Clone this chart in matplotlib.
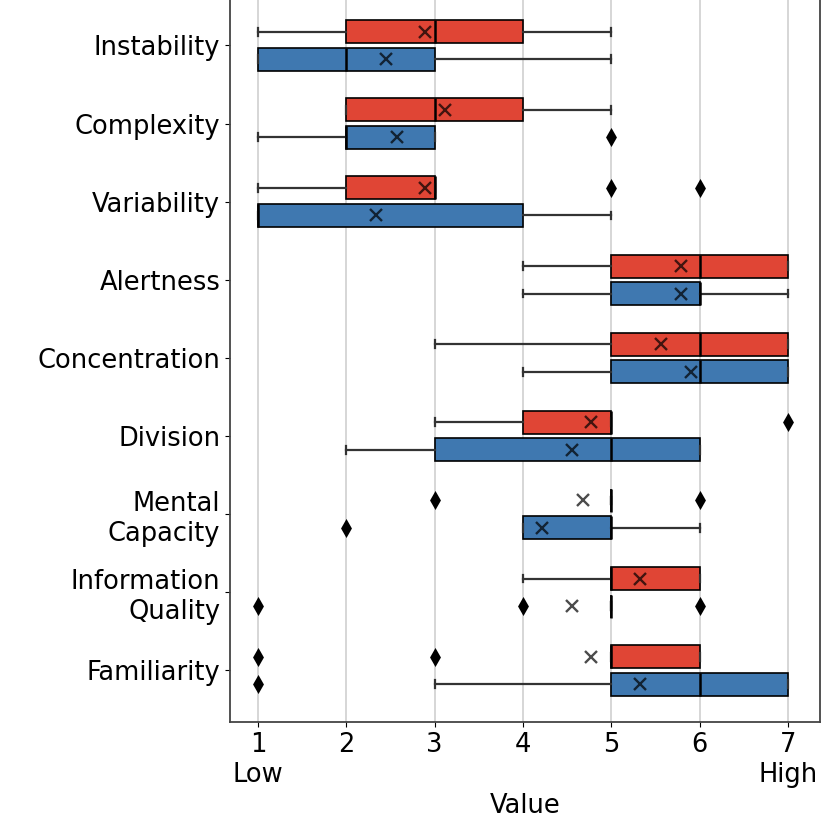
import matplotlib
matplotlib.use("Agg")
from matplotlib import pyplot as plt

# categories, top to bottom
categories = ["Instability", "Complexity", "Variability", "Alertness", "Concentration",
              "Division", "Mental\nCapacity", "Information\nQuality", "Familiarity"]

# red group: whisker low, q1, median, q3, whisker high, mean, outliers
red_wlo = [1, 2, 1, 4, 3, 3, 5, 4, 5]
red_q1 = [2, 2, 2, 5, 5, 4, 5, 5, 5]
red_med = [3, 3, 3, 6, 6, 5, 5, 5, 5]
red_q3 = [4, 4, 3, 7, 7, 5, 5, 6, 6]
red_whi = [5, 5, 3, 7, 7, 5, 5, 6, 6]
red_mean = [2.89, 3.12, 2.89, 5.79, 5.56, 4.77, 4.68, 5.33, 4.77]
red_fliers = [[], [], [5, 6], [], [], [7], [3, 6], [], [1, 3]]

# blue group
blue_wlo = [1, 1, 1, 4, 4, 2, 4, 5, 3]
blue_q1 = [1, 2, 1, 5, 5, 3, 4, 5, 5]
blue_med = [2, 2, 1, 6, 6, 5, 5, 5, 6]
blue_q3 = [3, 3, 4, 6, 7, 6, 5, 5, 7]
blue_whi = [5, 3, 5, 7, 7, 6, 6, 5, 7]
blue_mean = [2.45, 2.57, 2.33, 5.79, 5.9, 4.56, 4.21, 4.56, 5.33]
blue_fliers = [[], [5], [], [], [], [], [2], [1, 4, 6], [1]]

red_color = "#e04535"
blue_color = "#3f78b0"


def make_stats(wlo, q1, med, q3, whi, mean, fliers):
    stats = []
    for i in range(len(q1)):
        stats.append({"whislo": wlo[i], "q1": q1[i], "med": med[i], "q3": q3[i],
                      "whishi": whi[i], "mean": mean[i], "fliers": fliers[i]})
    return stats


fig = plt.figure(figsize=(8.33, 8.22), dpi=100)
ax = fig.add_axes([0.276, 0.1217, 0.708, 0.88])

pos = list(range(len(categories)))
offset = 0.176
box_w = 0.294

groups = [
    (make_stats(red_wlo, red_q1, red_med, red_q3, red_whi, red_mean, red_fliers), -offset, red_color),
    (make_stats(blue_wlo, blue_q1, blue_med, blue_q3, blue_whi, blue_mean, blue_fliers), offset, blue_color),
]

for stats, off, color in groups:
    ax.bxp(stats, positions=[p + off for p in pos], widths=box_w, vert=False,
           patch_artist=True, showmeans=True, capwidths=0.1,
           boxprops=dict(facecolor=color, edgecolor="black", linewidth=1.2),
           medianprops=dict(color="black", linewidth=1.8),
           whiskerprops=dict(color="#333333", linewidth=1.6),
           capprops=dict(color="#333333", linewidth=1.6),
           meanprops=dict(marker="x", markeredgecolor="black", markersize=8,
                          markeredgewidth=1.7, alpha=0.7),
           flierprops=dict(marker="d", markerfacecolor="black", markeredgecolor="black",
                           markersize=7.5, markeredgewidth=1.8))

ax.set_yticks(pos)
ax.set_yticklabels(categories, fontsize=18.5)
ax.set_ylim(8.66, -0.6)
ax.set_xlim(0.68, 7.36)
ax.set_xticks([1, 2, 3, 4, 5, 6, 7])
ax.set_xticklabels(["1\nLow", "2", "3", "4", "5", "6", "7\nHigh"], fontsize=18.5)
ax.set_xlabel("Value", fontsize=18.5)
ax.grid(axis="x", color="#d0d0d0", linewidth=1.2)
ax.set_axisbelow(True)
for side in ["left", "right", "bottom", "top"]:
    ax.spines[side].set_color("#444444")
    ax.spines[side].set_linewidth(1.3)

plt.savefig("out.png", dpi=100)
